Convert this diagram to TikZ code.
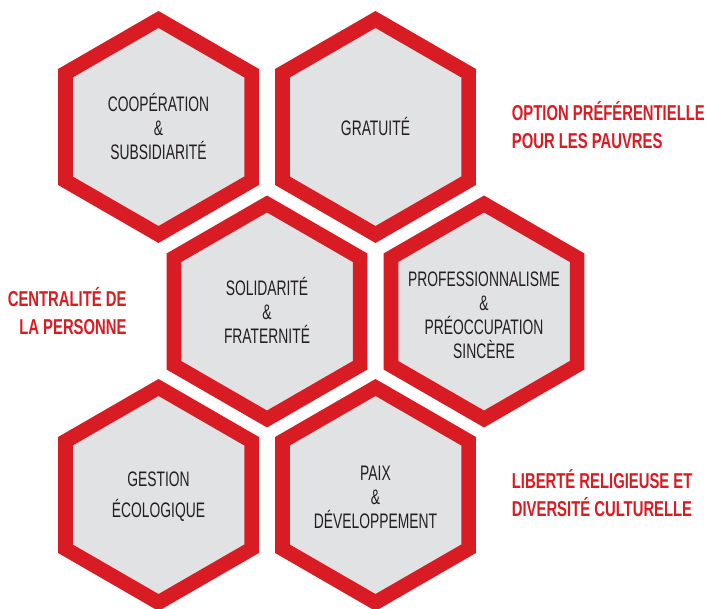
\documentclass[tikz,border=0pt]{standalone}
\usepackage{fontspec}
\newfontfamily\hexfont{Liberation Sans}[FakeStretch=0.66]
\newfontfamily\tagfont{Liberation Sans}[FakeStretch=0.69]
\definecolor{hexred}{HTML}{D91C24}
\definecolor{hexgray}{HTML}{E1E2E4}
\definecolor{hexink}{HTML}{231F20}
\tikzset{
  hexborder/.style={draw=hexred, fill=hexgray, line width=14.7pt, line join=miter},
  hextext/.style={text=hexink, align=center, inner sep=0pt, font=\hexfont\fontsize{21}{24}\selectfont},
  tagtext/.style={text=hexred, inner sep=0pt, font=\tagfont\bfseries\fontsize{21.5}{28.6}\selectfont},
}
\begin{document}
\begin{tikzpicture}[x=1pt,y=1pt]
\clip (0,0) rectangle (706,-609);
\fill[white] (0,0) rectangle (706,-609);
\foreach \cx/\cy in {158.5/127, 375.5/127, 267/311.5, 484/311.5, 158.5/495, 375.5/495}
  \draw[hexborder] (\cx,-\cy) ++(90:107.5pt) -- ++(210:107.5pt) -- ++(270:107.5pt)
     -- ++(330:107.5pt) -- ++(30:107.5pt) -- ++(90:107.5pt) -- cycle;

\node[hextext] (coop) at (158.5,-126.3) {COOPÉRATION\\\&\\SUBSIDIARITÉ};
\node[hextext] (grat) at (375.5,-126.3) {GRATUITÉ};
\node[hextext] (soli) at (267,-310.8) {SOLIDARITÉ\\\&\\FRATERNITÉ};
\node[hextext] (prof) at (484,-315) {PROFESSIONNALISME\\\&\\PRÉOCCUPATION\\SINCÈRE};
\node[hextext] (gest) at (158.5,-496.7) {GESTION\\[7pt]ÉCOLOGIQUE};
\node[hextext] (paix) at (375.5,-497) {PAIX\\\&\\DÉVELOPPEMENT};

\node[tagtext, anchor=west, align=left] (opt) at (511.7,-125) {OPTION PRÉFÉRENTIELLE\\POUR LES PAUVRES};
\node[tagtext, anchor=east, align=right] (cent) at (126.7,-311) {CENTRALITÉ DE\\LA PERSONNE};
\node[tagtext, anchor=west, align=left] (lib) at (511.7,-493) {LIBERTÉ RELIGIEUSE ET\\DIVERSITÉ CULTURELLE};
\end{tikzpicture}
\end{document}
